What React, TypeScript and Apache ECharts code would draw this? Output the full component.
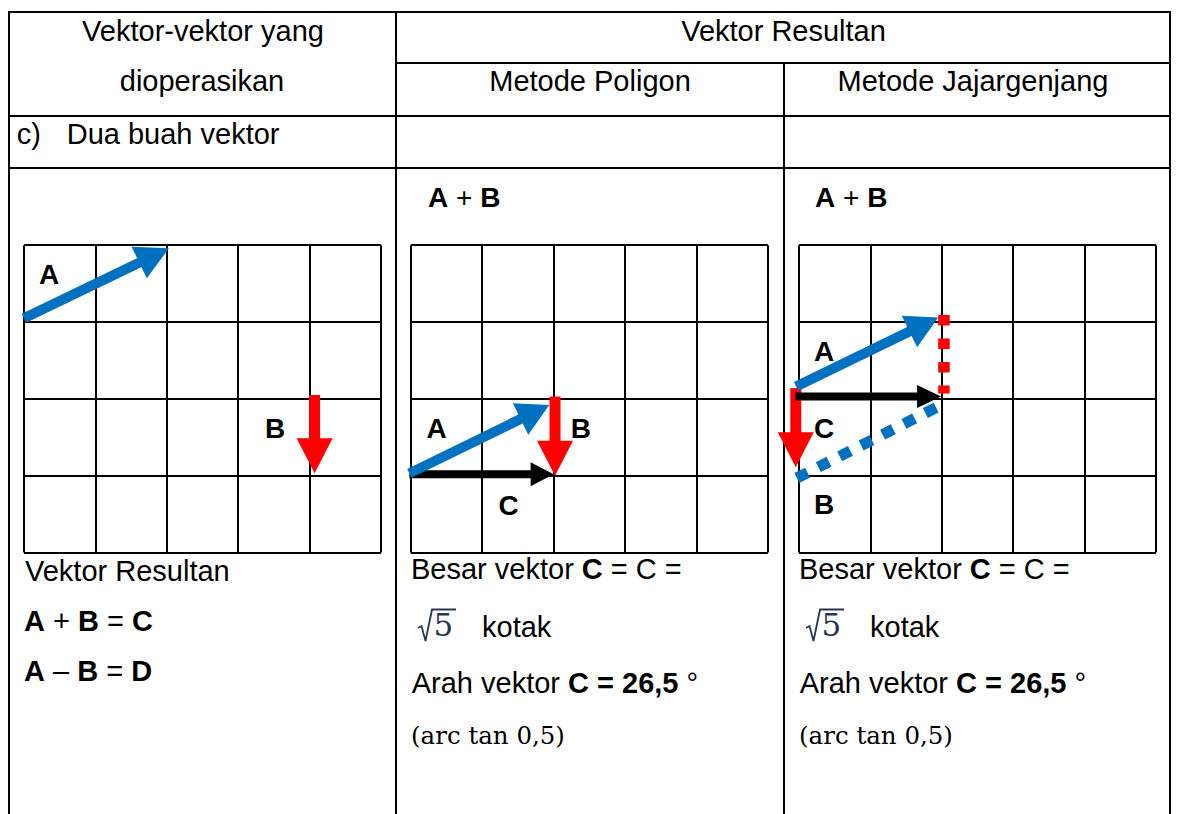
import React, { useEffect, useRef } from "react";
import * as echarts from "echarts";

// ---------- data ----------
const X_SQUARES = 5;
const Y_SQUARES = 4;

// vectors as [x1, y1, x2, y2] in grid squares (origin bottom-left)
const singleA = [0, 3.05, 2.03, 3.96];
const singleB = [4.07, 2.05, 4.07, 1.03];
const poligonA = [-0.02, 1.03, 1.94, 1.92];
const poligonB = [2.02, 2.03, 2.02, 1.0];
const poligonC = [-0.02, 1.02, 2.0, 1.02];
const jajarA = [-0.04, 2.16, 1.95, 3.06];
const jajarB = [-0.045, 2.14, -0.045, 1.11];
const jajarC = [-0.05, 2.03, 1.99, 2.03];
const jajarAShifted = [-0.03, 0.97, 1.95, 1.9];
const jajarBShifted = [2.03, 3.09, 2.03, 2.07];

// vector labels: [text, x, y] in grid squares
const singleLabels = [["A", 0.21, 3.62], ["B", 3.375, 1.62]];
const poligonLabels = [["A", 0.22, 1.62], ["B", 2.24, 1.62], ["C", 1.23, 0.61]];
const jajarLabels = [["A", 0.21, 2.61], ["C", 0.21, 1.62], ["B", 0.21, 0.62]];

// texts
const headerLeft = ["Vektor-vektor yang", "dioperasikan"];
const headerRight = "Vektor Resultan";
const methodNames = ["Metode Poligon", "Metode Jajargenjang"];
const rowLabelPrefix = "c)";
const rowLabelText = "Dua buah vektor";
const sumLabel = "{b|A} + {b|B}";
const resultTitle = "Vektor Resultan";
const resultLines = ["{b|A} + {b|B} = {b|C}", "{b|A} \u2013 {b|B} = {b|D}"];
const magnitudeText = "Besar vektor {b|C} = C =";
const rootValue = "5";
const unitText = "kotak";
const directionText = "Arah vektor {b|C = 26,5} \u00b0";
const directionNote = "(arc tan 0,5)";

// ---------- styles ----------
const SANS = '"Liberation Sans", Arial, Helvetica, sans-serif';
const SERIF = '"DejaVu Serif", "Liberation Serif", serif';
const BLUE = "#0070C0";
const RED = "#FF0000";
const BLACK = "#000000";

function arrowSeries(gi: number, vec: number[], color: string, shaft: number, headLen: number, headWid: number, z: number) {
  return {
    type: "custom",
    coordinateSystem: "cartesian2d",
    xAxisIndex: gi,
    yAxisIndex: gi,
    silent: true,
    clip: false,
    z,
    data: [vec],
    renderItem: (_p: any, api: any) => {
      const p1 = api.coord([api.value(0), api.value(1)]);
      const p2 = api.coord([api.value(2), api.value(3)]);
      const dx = p2[0] - p1[0];
      const dy = p2[1] - p1[1];
      const len = Math.hypot(dx, dy);
      const ux = dx / len;
      const uy = dy / len;
      const nx = -uy;
      const ny = ux;
      const bx = p2[0] - ux * headLen;
      const by = p2[1] - uy * headLen;
      const ex = bx + ux * 1;
      const ey = by + uy * 1;
      const hs = shaft / 2;
      const hh = headWid / 2;
      return {
        type: "group",
        children: [
          {
            type: "polygon",
            shape: {
              points: [
                [p1[0] + nx * hs, p1[1] + ny * hs],
                [ex + nx * hs, ey + ny * hs],
                [ex - nx * hs, ey - ny * hs],
                [p1[0] - nx * hs, p1[1] - ny * hs],
              ],
            },
            style: { fill: color },
          },
          {
            type: "polygon",
            shape: {
              points: [
                [p2[0], p2[1]],
                [bx + nx * hh, by + ny * hh],
                [bx - nx * hh, by - ny * hh],
              ],
            },
            style: { fill: color },
          },
        ],
      };
    },
  };
}

function dottedSeries(gi: number, vec: number[], color: string, width: number, dash: number[], z: number) {
  return {
    type: "custom",
    coordinateSystem: "cartesian2d",
    xAxisIndex: gi,
    yAxisIndex: gi,
    silent: true,
    clip: false,
    z,
    data: [vec],
    renderItem: (_p: any, api: any) => {
      const p1 = api.coord([api.value(0), api.value(1)]);
      const p2 = api.coord([api.value(2), api.value(3)]);
      return {
        type: "line",
        shape: { x1: p1[0], y1: p1[1], x2: p2[0], y2: p2[1] },
        style: { stroke: color, lineWidth: width, lineDash: dash, lineCap: "butt", fill: null },
      };
    },
  };
}

function labelSeries(gi: number, labels: any[]) {
  return {
    type: "custom",
    coordinateSystem: "cartesian2d",
    xAxisIndex: gi,
    yAxisIndex: gi,
    silent: true,
    clip: false,
    z: 10,
    data: labels.map((l) => [l[1], l[2]]),
    renderItem: (params: any, api: any) => {
      const p = api.coord([api.value(0), api.value(1)]);
      return {
        type: "text",
        x: p[0],
        y: p[1],
        style: {
          text: labels[params.dataIndex][0],
          fill: BLACK,
          fontSize: 28,
          fontWeight: "bold",
          fontFamily: SANS,
          align: "left",
          verticalAlign: "middle",
        },
      };
    },
  };
}

function txt(x: number, y: number, text: string, opts: any = {}) {
  return {
    type: "text",
    x,
    y,
    silent: true,
    style: {
      text,
      fill: BLACK,
      fontSize: 29,
      fontFamily: SANS,
      align: "left",
      verticalAlign: "middle",
      rich: { b: { fontWeight: "bold", fontSize: 29, fontFamily: SANS, fill: BLACK } },
      ...opts,
    },
  };
}

function hline(x1: number, x2: number, y: number) {
  return { type: "line", silent: true, shape: { x1, y1: y, x2, y2: y }, style: { stroke: BLACK, lineWidth: 2 } };
}
function vline(x: number, y1: number, y2: number) {
  return { type: "line", silent: true, shape: { x1: x, y1, x2: x, y2 }, style: { stroke: BLACK, lineWidth: 2 } };
}

function resultBlock(x0: number) {
  return [
    txt(x0, 569.3, magnitudeText),
    {
      type: "polyline",
      silent: true,
      shape: { points: [[418, 628], [421.5, 626], [425.5, 641], [432, 609.5], [456, 609.5]].map((p) => [p[0] + x0 - 411, p[1]]) },
      style: { stroke: "#2a3550", lineWidth: 1.8, fill: null },
    },
    txt(x0 + 22.5, 624.5, rootValue, { fontFamily: SERIF, fontSize: 31, fill: "#2a3550" }),
    txt(x0 + 71, 627, unitText),
    txt(x0 + 0.7, 683.3, directionText),
    txt(x0, 735.5, directionNote, { fontFamily: SERIF, fontSize: 24.5 }),
  ];
}

export default function App() {
  const ref = useRef<HTMLDivElement>(null);
  useEffect(() => {
    if (!ref.current) return;
    const chart = echarts.init(ref.current, undefined, { renderer: "svg" });
    const gridLefts = [24, 410.8, 799];
    const axisCommon = {
      type: "value",
      min: 0,
      interval: 1,
      axisLine: { show: false },
      axisTick: { show: false },
      axisLabel: { show: false },
      splitLine: { show: true, showMinLine: true, showMaxLine: true, lineStyle: { color: BLACK, width: 2 } },
    };
    const option: any = {
      animation: false,
      backgroundColor: "#ffffff",
      grid: gridLefts.map((l) => ({ left: l, top: 245.2, width: 357, height: 307.3 })),
      xAxis: gridLefts.map((_l, i) => ({ ...axisCommon, gridIndex: i, max: X_SQUARES })),
      yAxis: gridLefts.map((_l, i) => ({ ...axisCommon, gridIndex: i, max: Y_SQUARES })),
      series: [
        arrowSeries(0, singleA, BLUE, 10, 33, 35, 3),
        arrowSeries(0, singleB, RED, 11, 35, 36, 3),
        labelSeries(0, singleLabels),

        arrowSeries(1, poligonC, BLACK, 8, 23, 24, 3),
        arrowSeries(1, poligonA, BLUE, 10, 32, 35, 4),
        arrowSeries(1, poligonB, RED, 11, 35, 36, 5),
        labelSeries(1, poligonLabels),

        dottedSeries(2, jajarBShifted, RED, 11.5, [10.5, 13], 2),
        dottedSeries(2, jajarAShifted, BLUE, 11, [12, 12], 2),
        arrowSeries(2, jajarB, RED, 11, 35, 36, 3),
        arrowSeries(2, jajarC, BLACK, 8, 24, 23, 4),
        arrowSeries(2, jajarA, BLUE, 10, 32, 35, 5),
        labelSeries(2, jajarLabels),
      ],
      graphic: [
        // table rules
        hline(8, 1171, 12),
        vline(9, 11, 814),
        vline(1170, 11, 814),
        vline(396, 12, 814),
        vline(784, 63, 814),
        hline(396, 1171, 63),
        hline(9, 1171, 116),
        hline(9, 1171, 168),
        // headers
        txt(203, 31, headerLeft[0], { align: "center" }),
        txt(202, 81, headerLeft[1], { align: "center" }),
        txt(783.5, 30.5, headerRight, { align: "center" }),
        txt(590, 81, methodNames[0], { align: "center" }),
        txt(973, 81, methodNames[1], { align: "center" }),
        txt(16.7, 134, rowLabelPrefix),
        txt(66.7, 134, rowLabelText),
        // A + B above panels
        txt(428, 197.3, sumLabel, { fontSize: 28, rich: { b: { fontWeight: "bold", fontSize: 28, fontFamily: SANS, fill: BLACK } } }),
        txt(815, 197.3, sumLabel, { fontSize: 28, rich: { b: { fontWeight: "bold", fontSize: 28, fontFamily: SANS, fill: BLACK } } }),
        // left column results
        txt(25, 571, resultTitle),
        txt(24, 621, resultLines[0]),
        txt(24, 671, resultLines[1]),
        // resultant descriptions
        ...resultBlock(411),
        ...resultBlock(799),
      ],
    };
    chart.setOption(option);
    return () => chart.dispose();
  }, []);
  return (
    <div
      ref={ref}
      style={{ position: "absolute", left: 0, top: 0, width: 1178, height: 814, background: "#fff" }}
    />
  );
}
